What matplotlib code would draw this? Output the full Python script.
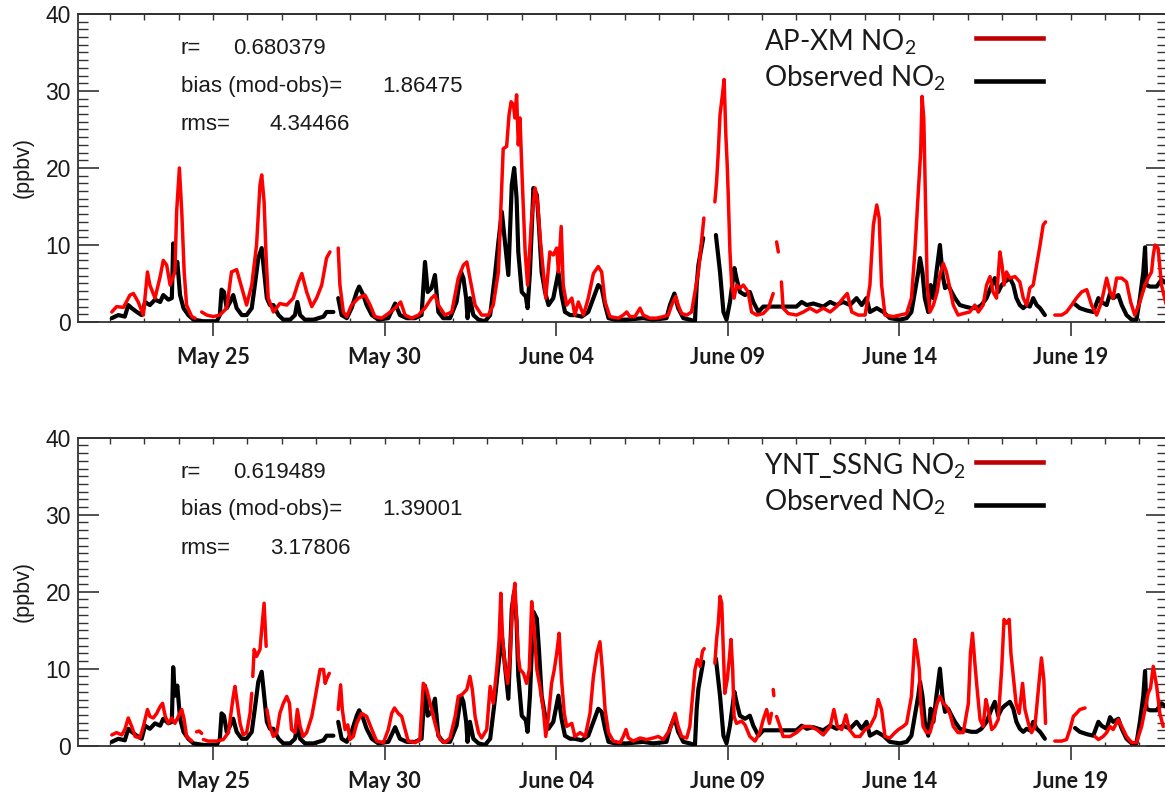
import numpy as np
import matplotlib
matplotlib.use("Agg")
import matplotlib.pyplot as plt
from matplotlib.ticker import MultipleLocator, FixedLocator, NullFormatter

nan = np.nan

# ---------------- data (day offset from May 21 00:00, ppbv) ----------------
OBS = [(1.05,0.5),(1.24,0.9),(1.43,0.7),(1.53,2.2),(1.63,1.8),(1.78,1.3),(1.92,0.9),(2.02,2.6),(2.16,2.2),(2.31,2.9),
       (2.46,2.6),(2.55,3.5),(2.70,2.9),(2.80,3.1),(2.84,10.2),(2.89,6.5),(2.96,7.8),(3.04,3.5),(3.14,1.8),(3.28,0.9),
       (3.43,0.3),(3.72,0.1),(4.11,0.1),(4.20,0.9),(4.25,4.2),(4.32,3.9),(4.40,1.8),(4.50,2.6),(4.59,3.5),(4.69,1.8),
       (4.84,0.9),(4.98,0.9),(5.13,1.8),(5.22,4.8),(5.32,8.3),(5.42,9.6),(5.49,6.5),(5.57,3.1),(5.66,2.2),(5.76,2.2),
       (5.91,0.9),(6.05,0.3),(6.25,0.3),(6.39,0.9),(6.46,2.6),(6.54,0.9),(6.68,0.3),(6.93,0.3),(7.22,0.7),(7.31,1.3),
       (7.51,1.3),(7.58,nan),(7.65,3.1),(7.75,0.9),(7.90,0.5),(8.04,1.8),(8.19,3.9),(8.26,4.6),(8.38,3.5),(8.48,2.2),
       (8.63,0.9),(8.82,0.3),(9.11,0.5),(9.31,2.4),(9.45,0.9),(9.65,0.5),(9.89,0.5),(10.08,0.9),(10.18,7.8),(10.26,3.9),
       (10.37,4.4),(10.47,6.1),(10.57,1.3),(10.71,0.5),(10.91,0.5),(11.10,2.6),(11.23,6.5),(11.30,5.7),(11.38,3.1),(11.42,0.5),
       (11.49,3.1),(11.59,0.9),(11.74,0.3),(11.93,0.1),(12.08,0.9),(12.22,6.1),(12.32,10.4),(12.42,14.3),(12.51,10.4),(12.61,6.1),
       (12.71,17.8),(12.78,20.0),(12.85,16.1),(12.90,9.1),(13.00,3.9),(13.12,3.3),(13.17,1.8),(13.24,6.5),(13.34,17.4),(13.44,16.5),
       (13.50,12.6),(13.58,6.5),(13.68,3.9),(13.78,2.2),(13.92,3.1),(14.07,6.5),(14.16,3.5),(14.26,1.3),(14.41,0.9),(14.55,0.9),
       (14.75,0.7),(14.94,1.3),(15.09,3.1),(15.23,4.8),(15.33,4.4),(15.43,2.2),(15.53,0.5),(15.72,0.3),(16.06,0.3),(16.54,0.5),
       (16.83,0.3),(17.22,0.5),(17.32,2.2),(17.45,3.7),(17.56,1.8),(17.71,0.5),(17.90,0.3),(18.05,0.1),(18.10,4.8),(18.15,7.4),
       (18.29,10.9),(18.45,nan),(18.66,11.3),(18.78,6.5),(18.88,1.3),(18.97,0.3),(19.07,2.6),(19.20,7.0),(19.26,5.7),(19.36,3.9),
       (19.51,3.5),(19.65,3.9),(19.75,2.6),(19.90,1.3),(20.04,2.0),(20.33,2.0),(20.62,2.0),(21.01,2.0),(21.16,2.6),(21.31,2.2),
       (21.50,2.4),(21.79,2.0),(21.99,2.6),(22.18,2.2),(22.37,2.6),(22.57,2.2),(22.76,3.1),(22.91,2.2),(23.05,3.1),(23.15,1.3),
       (23.35,1.8),(23.54,1.3),(23.73,0.5),(24.02,0.3),(24.22,0.5),(24.36,1.3),(24.46,3.9),(24.56,6.5),(24.61,8.3),(24.68,6.5),
       (24.75,3.1),(24.85,1.3),(24.92,4.8),(25.00,3.1),(25.09,6.5),(25.19,10.0),(25.27,6.1),(25.34,4.4),(25.43,4.8),(25.53,3.9),
       (25.63,3.1),(25.77,2.2),(25.92,2.0),(26.11,1.8),(26.26,1.8),(26.40,2.2),(26.55,3.1),(26.70,4.8),(26.79,5.7),(26.89,3.9),
       (26.99,4.8),(27.08,5.2),(27.23,5.7),(27.33,4.8),(27.42,3.1),(27.52,2.2),(27.62,1.8),(27.72,2.2),(27.81,2.0),(27.91,3.1),
       (28.01,2.2),(28.11,1.8),(28.25,0.9),(28.70,nan),(29.13,2.3),(29.27,1.8),(29.47,1.5),(29.66,1.3),(29.81,3.1),(29.90,2.6),
       (30.05,2.2),(30.15,3.7),(30.24,3.1),(30.39,3.5),(30.49,2.2),(30.63,0.9),(30.78,0.3),(30.92,0.3),(31.02,3.1),(31.12,6.5),
       (31.17,9.7),(31.21,4.8),(31.31,4.6),(31.51,4.6),(31.65,5.5),(31.80,5.0)]

APXM = [(1.05,1.3),(1.19,2.0),(1.39,1.9),(1.58,3.5),(1.68,3.7),(1.82,2.6),(1.97,0.9),(2.09,6.5),(2.16,4.8),(2.31,3.1),
        (2.46,5.9),(2.55,8.0),(2.65,7.4),(2.75,4.8),(2.89,6.5),(2.94,14.3),(3.02,20.0),(3.09,14.3),(3.16,6.5),(3.23,2.2),
        (3.38,0.7),(3.48,0.5),(3.56,nan),(3.67,1.3),(3.82,0.9),(4.01,0.7),(4.20,0.9),(4.40,1.8),(4.54,6.5),(4.69,6.8),
        (4.84,4.4),(4.98,2.2),(5.13,4.8),(5.27,10.0),(5.37,17.8),(5.42,19.1),(5.49,15.6),(5.55,8.3),(5.61,3.1),(5.76,1.3),
        (5.95,2.4),(6.15,2.2),(6.34,3.1),(6.49,5.2),(6.59,6.3),(6.73,3.9),(6.88,2.0),(7.02,3.1),(7.17,4.8),(7.31,8.3),
        (7.41,9.1),(7.46,nan),(7.65,9.6),(7.70,4.8),(7.80,1.3),(7.90,0.7),(8.04,2.2),
        (8.24,3.1),(8.43,3.5),(8.58,2.2),(8.72,0.7),(8.92,0.5),(9.11,1.1),(9.31,1.8),(9.47,2.6),(9.60,0.9),(9.79,0.5),
        (9.99,0.9),(10.18,1.8),(10.37,3.1),(10.47,3.5),(10.57,2.2),(10.76,0.9),(10.96,1.3),(11.15,5.7),(11.30,7.4),(11.40,7.8),
        (11.49,5.7),(11.64,2.2),(11.83,0.9),(12.03,0.9),(12.17,2.2),(12.32,6.5),(12.42,17.8),(12.46,22.5),(12.56,22.8),(12.63,26.9),
        (12.69,28.6),(12.76,28.2),(12.80,26.5),(12.85,29.5),(12.90,23.0),(12.95,26.5),(13.02,17.8),(13.10,9.1),(13.17,4.8),(13.29,13.5),
        (13.39,17.4),(13.46,15.6),(13.53,11.3),(13.63,6.5),(13.70,3.1),(13.82,9.1),(13.92,8.7),(14.02,9.6),(14.07,6.5),(14.15,12.4),
        (14.21,4.8),(14.31,2.2),(14.46,3.1),(14.55,0.9),(14.65,2.6),(14.80,0.9),(14.94,3.1),(15.09,6.3),(15.23,7.2),(15.33,6.5),
        (15.43,2.6),(15.57,0.7),(15.82,0.5),(15.96,0.9),(16.06,1.3),(16.15,0.7),(16.30,0.7),(16.45,1.8),(16.54,0.9),(16.74,0.5),
        (16.93,0.5),(17.13,0.7),(17.27,0.9),(17.37,2.2),(17.49,3.3),(17.56,2.2),(17.66,1.1),(17.81,0.9),(17.95,1.3),(18.05,3.9),
        (18.15,6.5),(18.24,10.4),(18.31,13.5),(18.47,nan),(18.63,15.6),(18.68,18.2),(18.73,22.1),(18.78,26.9),(18.85,29.5),(18.90,31.5),
        (18.95,24.3),(18.99,20.4),(19.02,16.5),(19.07,9.1),(19.12,4.8),(19.19,3.1),(19.26,4.8),(19.36,4.4),(19.46,4.8),(19.60,3.9),
        (19.70,1.3),(19.85,0.9),(20.04,1.1),(20.19,1.8),(20.33,3.7),(20.38,nan),(20.43,10.4),(20.48,9.1),(20.52,nan),(20.57,5.2),
        (20.62,1.8),(20.77,1.1),(21.01,0.9),(21.21,1.3),(21.40,1.8),(21.60,1.3),(21.79,1.8),(21.99,1.3),(22.18,2.0),(22.37,3.1),
        (22.49,3.7),(22.62,1.3),(22.81,0.9),(23.01,0.9),(23.15,4.8),(23.25,12.6),(23.35,15.2),(23.42,13.5),(23.49,4.8),(23.59,0.9),
        (23.83,0.7),(24.02,0.9),(24.22,1.1),(24.36,3.1),(24.46,9.1),(24.56,16.9),(24.63,22.1),(24.67,29.3),(24.72,26.5),(24.77,15.6),
        (24.82,4.8),(24.90,1.3),(25.00,2.2),(25.11,3.9),(25.19,6.1),(25.29,7.6),(25.38,6.5),(25.48,4.4),(25.58,2.2),(25.72,0.9),
        (25.87,1.1),(26.06,1.3),(26.21,2.2),(26.31,1.3),(26.45,2.2),(26.55,4.8),(26.65,5.9),(26.74,3.9),(26.84,3.1),(26.94,9.1),
        (27.00,7.4),(27.06,4.8),(27.13,6.5),(27.23,5.7),(27.38,5.9),(27.52,5.2),(27.62,3.1),(27.72,2.2),(27.81,4.4),(27.91,4.8),
        (28.01,7.4),(28.11,10.0),(28.20,12.6),(28.27,13.0),(28.40,nan),(28.54,0.9),(28.74,0.9),(28.88,1.3),(29.03,2.2),(29.17,3.1),
        (29.32,3.9),(29.47,4.2),(29.61,2.2),(29.76,0.9),(29.90,2.6),(30.05,5.7),(30.15,3.9),(30.24,3.1),(30.34,5.7),(30.49,5.7),
        (30.63,5.2),(30.75,2.6),(30.87,0.9),(31.02,2.6),(31.17,4.8),(31.26,5.7),(31.36,6.5),(31.41,8.7),(31.46,10.0),(31.55,9.6),
        (31.65,4.8),(31.80,2.0)]

YNT = [(1.05,1.4),(1.19,1.7),(1.34,1.4),(1.43,2.1),(1.53,3.6),(1.63,2.5),(1.73,1.2),(1.87,1.0),(1.97,2.5),(2.09,4.7),
       (2.16,3.8),(2.26,3.6),(2.36,4.2),(2.46,5.1),(2.53,5.5),(2.61,3.8),(2.70,2.9),(2.80,3.6),(2.89,2.9),(2.99,3.8),
       (3.09,4.7),(3.16,3.4),(3.23,1.2),(3.38,0.6),(3.45,nan),(3.52,1.8),(3.60,1.9),(3.67,1.6),(3.70,nan),(3.72,0.8),
       (3.86,0.6),(4.11,0.6),(4.30,0.8),(4.45,1.7),(4.54,4.7),(4.59,6.4),(4.64,7.7),(4.71,5.5),(4.79,2.9),(4.88,1.4),
       (4.98,1.7),(5.08,4.2),(5.13,6.8),(5.14,nan),(5.16,9.0),(5.20,12.5),(5.27,11.6),(5.37,12.5),(5.42,15.1),(5.49,18.5),
       (5.55,12.9),(5.555,nan),(5.57,4.7),(5.66,2.5),(5.76,1.2),(5.86,1.7),(5.95,4.2),(6.05,5.5),(6.15,6.4),(6.23,5.5),
       (6.29,2.1),(6.39,1.7),(6.46,4.7),(6.54,2.5),(6.63,1.2),(6.73,1.7),(6.88,3.8),(7.02,7.3),(7.12,9.9),(7.22,9.9),
       (7.27,8.1),(7.31,8.6),(7.39,9.4),(7.50,nan),(7.65,4.7),(7.72,7.9),(7.77,4.7),(7.85,2.1),(7.93,2.7),(7.99,0.8),
       (8.09,1.2),(8.19,2.9),(8.33,4.2),(8.48,3.8),(8.63,2.1),(8.77,0.6),(8.97,0.4),(9.11,2.1),(9.21,4.2),(9.29,4.9),
       (9.40,4.2),(9.50,3.8),(9.60,2.1),(9.69,0.6),(9.89,0.4),(10.03,0.8),(10.13,8.1),(10.23,7.3),(10.33,5.5),(10.42,3.8),
       (10.52,2.1),(10.62,0.8),(10.76,0.4),(10.91,1.0),(11.06,3.8),(11.15,6.4),(11.25,6.6),(11.40,7.3),(11.49,9.0),(11.56,7.3),
       (11.64,3.8),(11.74,1.7),(11.83,1.0),(11.98,2.1),(12.08,7.7),(12.17,5.5),(12.27,9.9),(12.34,13.8),(12.39,19.8),(12.44,14.2),
       (12.51,10.3),(12.59,8.1),(12.66,11.6),(12.73,18.5),(12.80,21.1),(12.85,16.4),(12.90,11.6),(12.95,9.9),(13.05,9.4),(13.14,8.1),
       (13.22,9.9),(13.29,18.7),(13.36,15.2),(13.44,9.9),(13.53,7.7),(13.63,4.7),(13.70,1.2),(13.78,3.8),(13.87,8.1),(13.95,9.9),
       (14.02,12.0),(14.09,14.6),(14.16,8.6),(14.24,4.2),(14.31,2.5),(14.46,2.9),(14.55,1.2),(14.70,1.7),(14.85,1.2),(14.99,4.2),
       (15.09,9.0),(15.19,12.0),(15.28,13.5),(15.35,9.9),(15.43,4.7),(15.53,1.7),(15.67,0.6),(15.87,0.4),(15.96,1.2),(16.04,2.1),
       (16.11,1.0),(16.25,0.6),(16.45,1.0),(16.64,0.8),(16.83,1.0),(16.98,1.2),(17.13,0.8),(17.32,2.1),(17.47,4.2),(17.56,2.5),
       (17.66,1.2),(17.81,1.0),(17.90,2.5),(17.98,6.4),(18.05,9.9),(18.12,11.2),(18.20,10.3),(18.27,12.3),(18.32,12.6),(18.47,nan),
       (18.63,10.7),(18.68,13.8),(18.73,15.9),(18.78,19.4),(18.83,18.5),(18.88,12.0),(18.92,6.8),(18.99,8.6),(19.05,11.2),(19.10,13.8),
       (19.15,9.9),(19.19,3.8),(19.26,2.9),(19.41,3.2),(19.51,2.7),(19.65,1.2),(19.80,0.6),(19.94,1.7),(20.04,3.4),(20.14,4.7),
       (20.22,2.9),(20.28,4.2),(20.31,nan),(20.33,7.3),(20.35,6.5),(20.38,nan),(20.43,3.8),(20.53,2.5),(20.62,1.2),(20.82,1.2),
       (21.01,1.7),(21.21,2.5),(21.40,2.5),(21.60,2.1),(21.79,1.4),(21.99,2.5),(22.10,4.7),(22.20,2.5),(22.33,2.1),(22.45,4.0),
       (22.55,2.1),(22.71,1.2),(22.86,1.2),(23.01,2.1),(23.15,2.5),(23.30,3.8),(23.39,6.0),(23.49,4.7),(23.59,1.2),(23.73,1.0),
       (23.88,1.7),(23.98,2.1),(24.12,2.5),(24.22,2.9),(24.36,6.4),(24.46,13.8),(24.53,12.0),(24.59,9.9),(24.63,5.5),(24.70,2.5),
       (24.80,1.7),(24.90,1.7),(25.00,3.4),(25.11,5.5),(25.19,6.4),(25.29,5.5),(25.38,5.1),(25.48,4.2),(25.58,2.5),(25.72,1.7),
       (25.87,1.7),(26.02,5.5),(26.08,12.0),(26.14,14.6),(26.21,10.7),(26.26,8.1),(26.36,3.4),(26.45,2.5),(26.53,6.0),(26.60,4.7),
       (26.70,2.1),(26.79,2.5),(26.89,3.4),(26.99,9.9),(27.06,16.4),(27.13,15.9),(27.21,16.4),(27.26,12.0),(27.33,9.0),(27.41,5.5),
       (27.50,4.2),(27.60,8.1),(27.67,4.7),(27.77,2.9),(27.86,1.7),(27.96,2.5),(28.06,7.3),(28.15,11.4),(28.22,8.6),(28.27,2.9),
       (28.40,nan),(28.54,0.6),(28.74,0.6),(28.88,0.8),(28.98,2.1),(29.08,3.8),(29.17,4.2),(29.27,4.7),(29.42,4.9),(29.55,nan),
       (29.71,1.2),(29.81,0.8),(29.95,1.2),(30.05,1.7),(30.15,2.5),(30.24,2.1),(30.39,3.4),(30.49,2.5),(30.63,1.2),(30.78,0.4),
       (30.92,0.4),(31.07,2.5),(31.17,4.7),(31.26,6.8),(31.33,7.5),(31.41,10.3),(31.51,7.7),(31.60,4.2),(31.70,2.5)]

TICK_DAYS = [4, 9, 14, 19, 24, 29]
TICK_LABELS = ["May 25", "May 30", "June 04", "June 09", "June 14", "June 19"]
MODEL_NAMES = ["AP-XM", "YNT_SSNG"]
STAT_LABELS = ["r=", "bias (mod-obs)=", "rms="]
STATS_TOP = ["0.680379", "1.86475", "4.34466"]
STATS_BOT = ["0.619489", "1.39001", "3.17806"]

plt.rcParams["mathtext.default"] = "regular"

W, H = 1165, 796
fig = plt.figure(figsize=(W / 100, H / 100), dpi=100)
fig.patch.set_facecolor("white")


def rect(left, top, right, bottom):
    return [left / W, 1 - bottom / H, (right - left) / W, (bottom - top) / H]


ax_top = fig.add_axes(rect(78, 14, 1167, 322))
ax_bot = fig.add_axes(rect(78, 437.7, 1167, 745.7))

TXT = "#1a1a1a"
SP = "#333333"

obs_d, obs_v = np.array(OBS).T
series = [(ax_top, np.array(APXM).T, MODEL_NAMES[0], STATS_TOP),
          (ax_bot, np.array(YNT).T, MODEL_NAMES[1], STATS_BOT)]

for ax, (md, mv), name, stats in series:
    ax.plot(obs_d, obs_v, color="black", lw=3.0, solid_joinstyle="round", solid_capstyle="round", zorder=3)
    ax.plot(md, mv, color="#ff0000", lw=2.5, solid_joinstyle="round", solid_capstyle="round", zorder=4)
    ax.set_xlim(0.065, 31.81)
    ax.set_ylim(0, 40)
    for s in ax.spines.values():
        s.set_color(SP)
        s.set_linewidth(1.3)

    ax.yaxis.set_major_locator(MultipleLocator(10))
    ax.yaxis.set_minor_locator(MultipleLocator(1))
    ax.tick_params(axis="y", which="major", direction="in", length=15, width=1.2, left=True, right=True,
                   labelsize=16.5, pad=5, colors=SP, labelcolor=TXT)
    ax.tick_params(axis="y", which="minor", direction="in", length=7, width=1.0, left=True, right=True, colors=SP)
    for lab in ax.get_yticklabels():
        lab.set_fontfamily("Liberation Sans")

    ax.xaxis.set_major_locator(FixedLocator(TICK_DAYS))
    ax.set_xticklabels(TICK_LABELS, fontfamily="Lato", fontweight="bold", fontsize=15.5, color=TXT)
    ax.xaxis.set_minor_locator(MultipleLocator(1))
    ax.tick_params(axis="x", which="major", direction="out", length=10, width=1.2, top=False, bottom=True,
                   pad=8, colors=SP, labelcolor=TXT)
    ax.tick_params(axis="x", which="minor", direction="in", length=3, width=1.0, top=False, bottom=True, colors=SP)

    sec = ax.secondary_xaxis("top")
    sec.xaxis.set_major_locator(MultipleLocator(1))
    sec.xaxis.set_major_formatter(NullFormatter())
    sec.tick_params(direction="in", length=4, width=1.0, colors=SP)
    for s in sec.spines.values():
        s.set_color(SP)
        s.set_linewidth(1.3)

    ax.text(-0.0505, 0.5, "(ppbv)", rotation=90, transform=ax.transAxes, ha="center", va="center",
            fontsize=15.5, fontfamily="Liberation Sans", color=TXT)

    # statistics
    ys = [0.870, 0.748, 0.623]
    xs = [0.1421, 0.2798, 0.1763]
    for lab, val, y, x in zip(STAT_LABELS, stats, ys, xs):
        ax.text(0.0942, y, lab, transform=ax.transAxes, fontsize=16, fontfamily="Liberation Sans",
                va="baseline", ha="left", color=TXT)
        ax.text(x, y, val, transform=ax.transAxes, fontsize=16, fontfamily="Liberation Sans",
                va="baseline", ha="left", color=TXT)

    # legend
    ax.text(0.6297, 0.881, name + " NO$_2$", transform=ax.transAxes, fontsize=20, fontfamily="Lato",
            va="baseline", ha="left", color=TXT)
    ax.text(0.6297, 0.763, "Observed NO$_2$", transform=ax.transAxes, fontsize=20, fontfamily="Lato",
            va="baseline", ha="left", color=TXT)
    ax.plot([0.825, 0.886], [0.921, 0.921], transform=ax.transAxes, color="#c00000", lw=3.3, clip_on=False)
    ax.plot([0.825, 0.886], [0.782, 0.782], transform=ax.transAxes, color="black", lw=3.3, clip_on=False)

fig.savefig("out.png", dpi=100)
